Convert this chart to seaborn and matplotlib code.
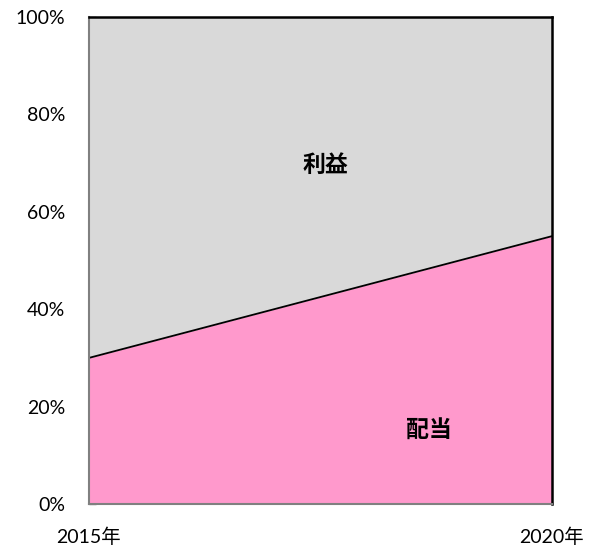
import matplotlib
matplotlib.use("Agg")
import matplotlib.pyplot as plt
import seaborn as sns
import pandas as pd
from matplotlib.ticker import FuncFormatter

# Data: share of dividends vs. retained profit (percent)
years = [2015, 2020]
year_labels = ["2015年", "2020年"]
dividend = [30, 55]   # 配当
profit = [70, 45]     # 利益

df = pd.DataFrame({"year": years, "配当": dividend, "利益": profit})
df["total"] = df["配当"] + df["利益"]

sns.set_theme(style="white")
plt.rcParams["font.family"] = ["Lato", "Noto Sans CJK JP", "DejaVu Sans"]

fig = plt.figure(figsize=(5.9, 5.49), dpi=100)
ax = fig.add_axes([0.1508, 0.082, 0.7848, 0.887])

pink = "#FF99CC"
gray = "#D9D9D9"

ax.fill_between(df["year"], 0, df["配当"], color=pink, linewidth=0)
ax.fill_between(df["year"], df["配当"], df["total"], color=gray, linewidth=0)

# boundary between the two series
sns.lineplot(data=df, x="year", y="配当", color="black", linewidth=1.3, ax=ax)

ax.set_xlim(years[0], years[-1])
ax.set_ylim(0, 100)
ax.set_yticks([0, 20, 40, 60, 80, 100])
ax.yaxis.set_major_formatter(FuncFormatter(lambda v, _: f"{int(v)}%"))
ax.set_xticks(years)
ax.set_xticklabels(year_labels)
ax.set_xlabel("")
ax.set_ylabel("")

ax.tick_params(axis="y", direction="in", length=5, width=1, color="#808080",
               labelsize=14, labelcolor="black", pad=17, left=True)
ax.tick_params(axis="x", length=0, labelsize=14, labelcolor="black", pad=17)

for side in ("left", "bottom"):
    ax.spines[side].set_color("#808080")
    ax.spines[side].set_linewidth(1.5)
for side in ("top", "right"):
    ax.spines[side].set_color("black")
    ax.spines[side].set_linewidth(1.8)

label_font = ["Noto Sans CJK JP", "DejaVu Sans"]
ax.text(2017.55, 69.6, "利益", ha="center", va="center", fontsize=16.5,
        fontweight="bold", color="black", family=label_font)
ax.text(2018.67, 15.2, "配当", ha="center", va="center", fontsize=16.5,
        fontweight="bold", color="black", family=label_font)

fig.savefig("out.png", dpi=100)
